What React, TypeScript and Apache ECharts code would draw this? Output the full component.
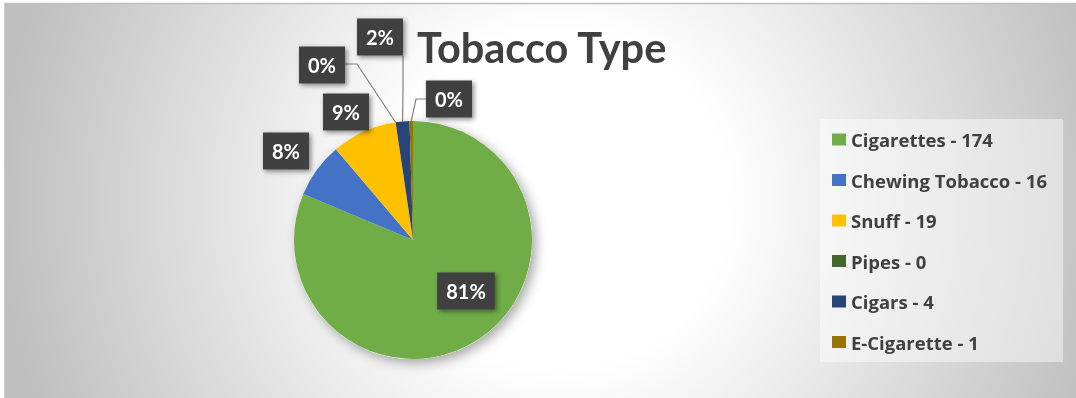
import React, { useEffect, useRef } from "react";
import * as echarts from "echarts";

const categories = ["Cigarettes", "Chewing Tobacco", "Snuff", "Pipes", "Cigars", "E-Cigarette"];
const values = [174, 16, 19, 0, 4, 1];
const percentLabels = ["81%", "8%", "9%", "0%", "2%", "0%"];
const colors = ["#70AD47", "#4472C4", "#FFC000", "#43682B", "#264478", "#997300"];
const titleText = "Tobacco Type";

// label layout (positions of label boxes, and leader line elbows/ends)
const LABEL_POS: number[][] = [
  [466, 291],
  [286, 151],
  [346, 112],
  [322, 65],
  [380, 37],
  [449, 99],
];
const LINE_PTS: (number[][] | null)[] = [
  null,
  null,
  null,
  [[357, 64], [345, 64]],
  [[403, 90], [403, 56]],
  [[416, 99], [427, 99]],
];

export default function App() {
  const ref = useRef<HTMLDivElement>(null);
  useEffect(() => {
    if (!ref.current) return;
    const chart = echarts.init(ref.current, undefined, { renderer: "svg" });
    const names = categories.map((c, i) => `${c} - ${values[i]}`);
    const data = values.map((v, i) => ({
      value: v,
      name: names[i],
      itemStyle: { color: colors[i] },
      labelLine: { show: LINE_PTS[i] !== null },
    }));
    const center = [413, 240];
    const radius = 119;
    chart.setOption({
      animation: false,
      graphic: [
        {
          type: "rect",
          z: 0,
          silent: true,
          shape: { x: 5, y: 3.5, width: 1080, height: 400 },
          style: {
            fill: new echarts.graphic.RadialGradient(
              560,
              200,
              560,
              [
                { offset: 0, color: "#ffffff" },
                { offset: 0.3, color: "#ffffff" },
                { offset: 1, color: "#bfbfbf" },
              ],
              true
            ),
            stroke: "#bfbfbf",
            lineWidth: 1.5,
          },
        },
        {
          type: "rect",
          z: 1,
          silent: true,
          shape: { x: 820, y: 119, width: 243, height: 243 },
          style: { fill: "rgba(255,255,255,0.45)" },
        },
        {
          type: "text",
          z: 10,
          silent: true,
          style: {
            text: titleText,
            x: 417,
            y: 47,
            fill: "#404040",
            font: "bold 41.5px Lato",
            align: "left",
            verticalAlign: "middle",
            textAlign: "left",
            textVerticalAlign: "middle",
          },
        },
      ],
      legend: {
        orient: "vertical",
        left: 832,
        top: 129.5,
        padding: 0,
        itemGap: 20.5,
        itemWidth: 14,
        itemHeight: 12,
        icon: "rect",
        data: names,
        selectedMode: false,
        textStyle: {
          color: "#404040",
          fontFamily: "Open Sans",
          fontWeight: "bold",
          fontSize: 18.5,
          lineHeight: 20,
        },
      },
      series: [
        {
          type: "pie",
          name: "shadow",
          z: 1,
          silent: true,
          center,
          radius,
          label: { show: false },
          labelLine: { show: false },
          itemStyle: {
            color: "#ffffff",
            shadowBlur: 12,
            shadowOffsetX: 4,
            shadowOffsetY: 4,
            shadowColor: "rgba(0,0,0,0.35)",
          },
          data: [{ value: 1, name: "" }],
        },
        {
          type: "pie",
          name: titleText,
          z: 2,
          silent: true,
          center,
          radius,
          startAngle: 90,
          clockwise: true,
          avoidLabelOverlap: false,
          emphasis: { disabled: true },
          label: {
            show: true,
            position: "outside",
            formatter: (p: any) => percentLabels[p.dataIndex],
            color: "#ffffff",
            fontFamily: "Lato",
            fontWeight: "bold",
            fontSize: 20,
            lineHeight: 21,
            backgroundColor: "#404040",
            padding: [8, 9, 8, 9],
            shadowColor: "rgba(0,0,0,0.45)",
            shadowBlur: 5,
            shadowOffsetX: 2,
            shadowOffsetY: 2,
          },
          labelLine: {
            show: true,
            length: 10,
            length2: 10,
            lineStyle: { color: "#808080", width: 1.2 },
          },
          labelLayout: (params: any) => {
            const i = params.dataIndex;
            const [x, y] = LABEL_POS[i];
            const out: any = { x, y, align: "center", verticalAlign: "middle" };
            const extra = LINE_PTS[i];
            if (extra) {
              const start =
                params.labelLinePoints && params.labelLinePoints[0]
                  ? params.labelLinePoints[0]
                  : [x, y];
              out.labelLinePoints = [start, extra[0], extra[1]];
            }
            return out;
          },
          data,
        },
      ],
    });
    return () => chart.dispose();
  }, []);
  return (
    <div
      ref={ref}
      style={{ position: "fixed", left: 0, top: 0, width: 1076, height: 398 }}
    />
  );
}
